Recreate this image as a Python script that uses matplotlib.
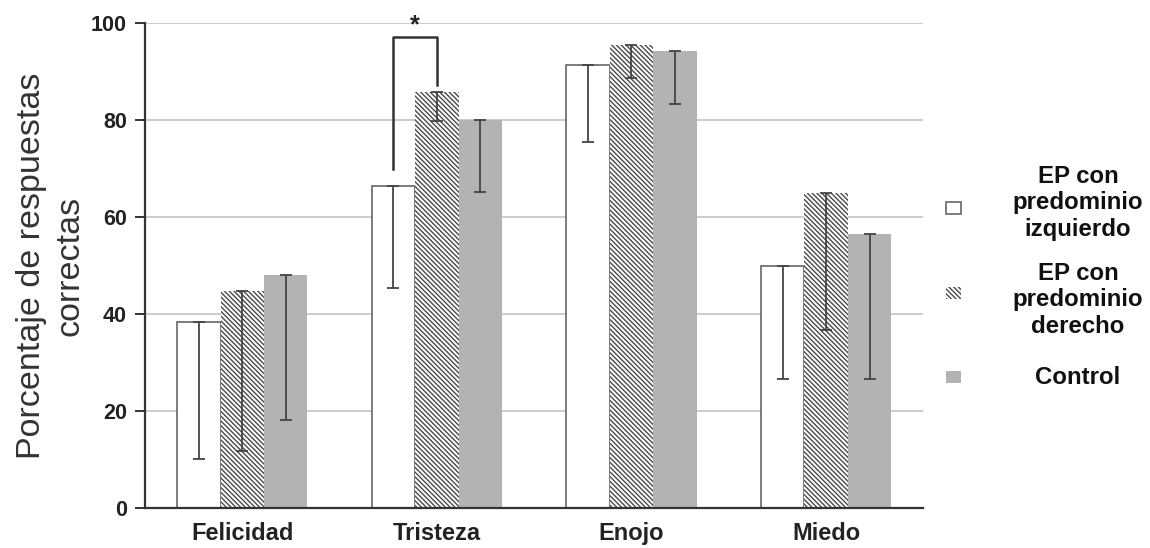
import numpy as np
import matplotlib
matplotlib.use("Agg")
import matplotlib.pyplot as plt
from matplotlib.patches import Rectangle

plt.rcParams['font.family'] = ['Liberation Sans', 'DejaVu Sans']
plt.rcParams['hatch.linewidth'] = 1.0

# datos
emociones = ['Felicidad', 'Tristeza', 'Enojo', 'Miedo']
grupos = ['EP con\npredominio\nizquierdo', 'EP con\npredominio\nderecho', 'Control']
izquierdo = [38.3, 66.3, 91.4, 49.9]
izquierdo_inf = [10.1, 45.3, 75.4, 26.7]
derecho = [44.8, 85.7, 95.5, 65.0]
derecho_inf = [11.8, 79.8, 88.6, 36.8]
control = [48.0, 80.0, 94.2, 56.5]
control_inf = [18.2, 65.1, 83.3, 26.5]
yticks = [0, 20, 40, 60, 80, 100]

# corchete de significancia (Tristeza)
corchete_sup = 97.1
corchete_izq = 70.0
corchete_der = 87.2

fig = plt.figure(figsize=(11.5, 5.48), dpi=100)
ax = fig.add_axes([0.126, 0.073, 0.677, 0.885])

x = np.arange(len(emociones))
w = 0.223

ax.bar(x - w, izquierdo, w, color='white', edgecolor='#666666', linewidth=1.2, zorder=2)
ax.bar(x, derecho, w, color='white', edgecolor='#4a4a4a', linewidth=0, hatch='\\\\\\\\\\\\\\', zorder=2)
ax.bar(x + w, control, w, color='#b3b3b3', linewidth=0, zorder=2)

for off, vals, lows in [(-w, izquierdo, izquierdo_inf), (0, derecho, derecho_inf), (w, control, control_inf)]:
    vals = np.array(vals)
    lows = np.array(lows)
    ax.errorbar(x + off, vals, yerr=[vals - lows, np.zeros_like(vals)], fmt='none',
                ecolor='#444444', elinewidth=1.3, capsize=4, capthick=1.3, zorder=3)

# corchete
xi = x[1] - w
xd = x[1]
ax.plot([xi, xi, xd, xd], [corchete_izq, corchete_sup, corchete_sup, corchete_der],
        color='#333333', lw=1.8, zorder=4, clip_on=False)
ax.text((xi + xd) / 2, corchete_sup, '*', ha='center', va='bottom',
        fontsize=18, fontweight='bold', color='#222222')

ax.set_xlim(-0.5, 3.5)
ax.set_ylim(0, 100)
ax.set_yticks(yticks)
ax.set_yticklabels([str(v) for v in yticks], fontsize=15.5, fontweight='bold', color='#222222')
ax.set_xticks(x)
ax.set_xticklabels(emociones, fontsize=17, fontweight='bold', color='#222222')
ax.tick_params(axis='x', length=0, pad=10)
ax.tick_params(axis='y', length=7, width=1.4, color='#333333', pad=6)

ax.yaxis.grid(True, color='#c8c8c8', lw=1.3, zorder=0)
ax.set_axisbelow(True)
for s in ['top', 'right']:
    ax.spines[s].set_visible(False)
for s in ['left', 'bottom']:
    ax.spines[s].set_color('#333333')
    ax.spines[s].set_linewidth(1.6)

ax.set_ylabel('Porcentaje de respuestas\ncorrectas', fontsize=24.5, color='#333333',
              linespacing=1.3, labelpad=4)

# leyenda manual
leg_y = [0.630, 0.453, 0.312]
marca_y = [0.620, 0.465, 0.312]
estilos = [dict(facecolor='white', edgecolor='#666666', linewidth=1.2),
           dict(facecolor='white', edgecolor='#4a4a4a', linewidth=0, hatch='\\\\\\\\\\\\\\'),
           dict(facecolor='#b3b3b3', linewidth=0)]
for yy, my, lab, est in zip(leg_y, marca_y, grupos, estilos):
    fig.add_artist(Rectangle((0.823, my - 0.011), 0.013, 0.022, transform=fig.transFigure, **est))
    fig.text(0.9374, yy, lab, ha='center', va='center', multialignment='center',
             fontsize=17.3, fontweight='bold', color='#111111', linespacing=1.2)

fig.savefig('out.png', dpi=100)
